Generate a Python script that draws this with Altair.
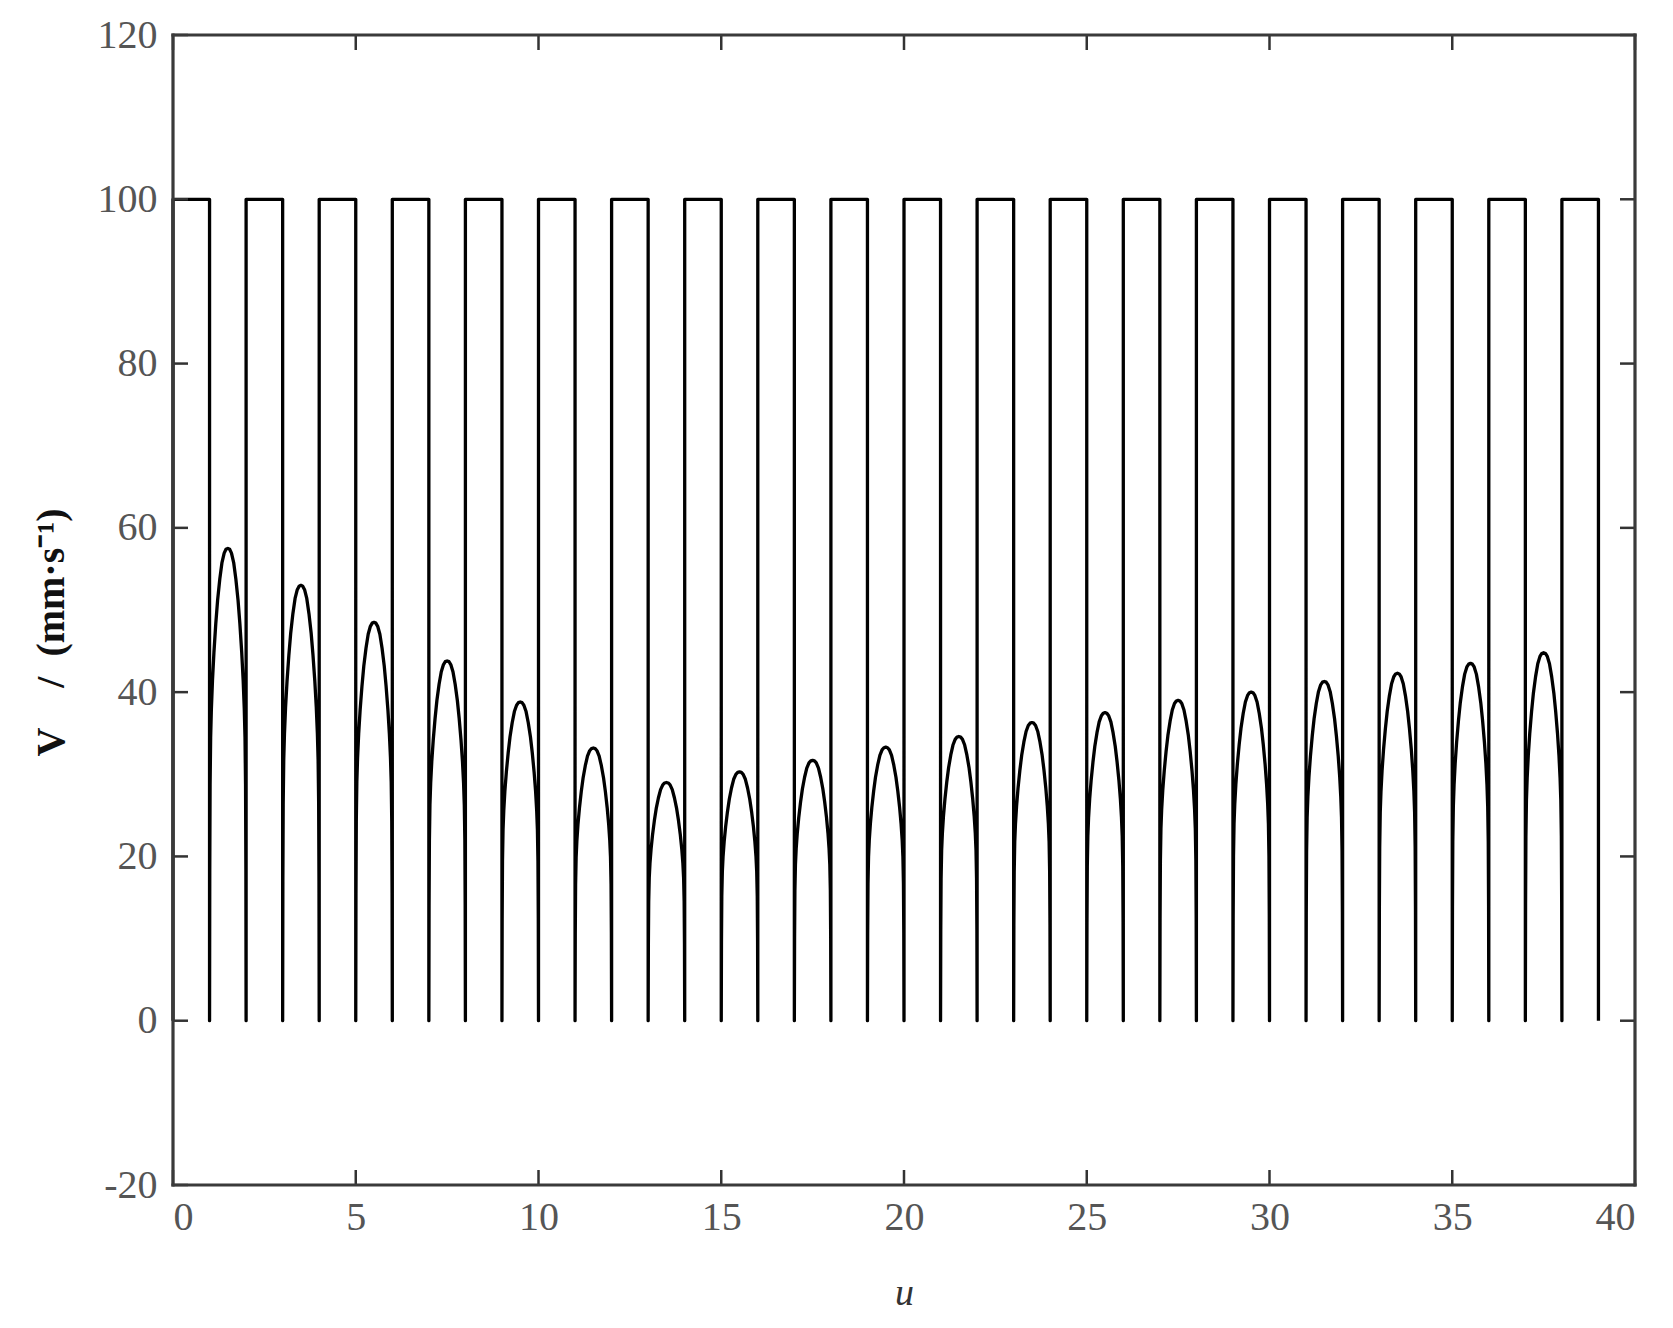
import altair as alt
import pandas as pd

# Flat-top level of each "on" interval [2k, 2k+1]
top_level = [100] * 20
# Peak of each hump in interval [2k+1, 2k+2]
hump_peaks = [57.5, 53.0, 48.5, 43.8, 38.8, 33.2, 29.0, 30.3, 31.7, 33.3,
              34.6, 36.3, 37.5, 39.0, 40.0, 41.3, 42.3, 43.5, 44.8]
# Hump shape (fraction of interval, fraction of peak)
prof_t = [0, 0.006, 0.015, 0.03, 0.05, 0.08, 0.12, 0.17, 0.22, 0.28, 0.34, 0.40, 0.45, 0.5]
prof_f = [0, 0.32, 0.50, 0.60, 0.66, 0.72, 0.78, 0.84, 0.89, 0.935, 0.97, 0.99, 0.998, 1.0]

x_ticks = [0, 5, 10, 15, 20, 25, 30, 35, 40]
y_ticks = [-20, 0, 20, 40, 60, 80, 100, 120]

W, H = 1462, 1150
TICK = 15

# build path
us, vs = [0.0], [0.0]
half_t = prof_t + [1 - t for t in reversed(prof_t[:-1])]
half_f = prof_f + list(reversed(prof_f[:-1]))
for k, lvl in enumerate(top_level):
    a = 2 * k
    us += [a, a + 1, a + 1]
    vs += [lvl, lvl, 0]
    if k < len(hump_peaks):
        p = hump_peaks[k]
        for t, f in zip(half_t, half_f):
            us.append(a + 1 + t)
            vs.append(p * f)
df = pd.DataFrame({"u": us, "v": vs, "o": range(len(us))})

xs = alt.Scale(domain=[0, 40], nice=False, zero=False)
ys = alt.Scale(domain=[-20, 120], nice=False, zero=False)

font = "Liberation Serif"

line = alt.Chart(df).mark_line(color="black", strokeWidth=3.3, strokeJoin="round").encode(
    x=alt.X("u:Q", scale=xs,
            axis=alt.Axis(values=x_ticks, ticks=False, domain=False, grid=False,
                          labelFont=font, labelFontSize=40, labelColor="#555",
                          labelPadding=12, labelExpr="datum.value",
                          title="u", titleFont=font,
                          titleFontStyle="italic", titleFontWeight="normal",
                          titleFontSize=38, titleColor="#333", titleY=108,
                          titleBaseline="middle")),
    y=alt.Y("v:Q", scale=ys,
            axis=alt.Axis(values=y_ticks, ticks=False, domain=False, grid=False,
                          labelFont=font, labelFontSize=40, labelColor="#555",
                          labelPadding=16, labelExpr="datum.value",
                          title="V\u2002\u2002/\u2002(mm·s\u207b\u00b9)", titleFont=font,
                          titleFontWeight="bold", titleFontSize=40, titleColor="#111",
                          titleX=-122, titleY=597, titleBaseline="middle")),
    order="o:Q",
)

xt = pd.DataFrame({"t": x_ticks})
yt = pd.DataFrame({"t": y_ticks})
tick_color = "#333"
bottom = alt.Chart(xt).mark_rule(color=tick_color, strokeWidth=2.5).encode(
    x=alt.X("t:Q", scale=xs), y=alt.value(H), y2=alt.value(H - TICK))
top = alt.Chart(xt).mark_rule(color=tick_color, strokeWidth=2.5).encode(
    x=alt.X("t:Q", scale=xs), y=alt.value(0), y2=alt.value(TICK))
left = alt.Chart(yt).mark_rule(color=tick_color, strokeWidth=2.5).encode(
    y=alt.Y("t:Q", scale=ys), x=alt.value(0), x2=alt.value(TICK))
right = alt.Chart(yt).mark_rule(color=tick_color, strokeWidth=2.5).encode(
    y=alt.Y("t:Q", scale=ys), x=alt.value(W - TICK), x2=alt.value(W))

frame_df = pd.DataFrame({"side": ["l", "r", "t", "b"],
                         "x1": [0, W, 0, 0], "x2": [0, W, W, W],
                         "y1": [0, 0, 0, H], "y2": [H, H, 0, H]})
frame = alt.Chart(frame_df).mark_rule(color="#3a3a3a", strokeWidth=3.2, strokeCap="square").encode(
    x=alt.X("x1:Q", scale=None, axis=None), x2="x2:Q",
    y=alt.Y("y1:Q", scale=None, axis=None), y2="y2:Q")

chart = alt.layer(line, bottom, top, left, right, frame).properties(
    width=W, height=H,
    autosize=alt.AutoSizeParams(type="none"),
    padding={"left": 165, "top": 27, "right": 20, "bottom": 140},
).configure_view(stroke=None).configure(background="white")

chart.save("out.html", embed_options={"renderer": "svg", "actions": False})
